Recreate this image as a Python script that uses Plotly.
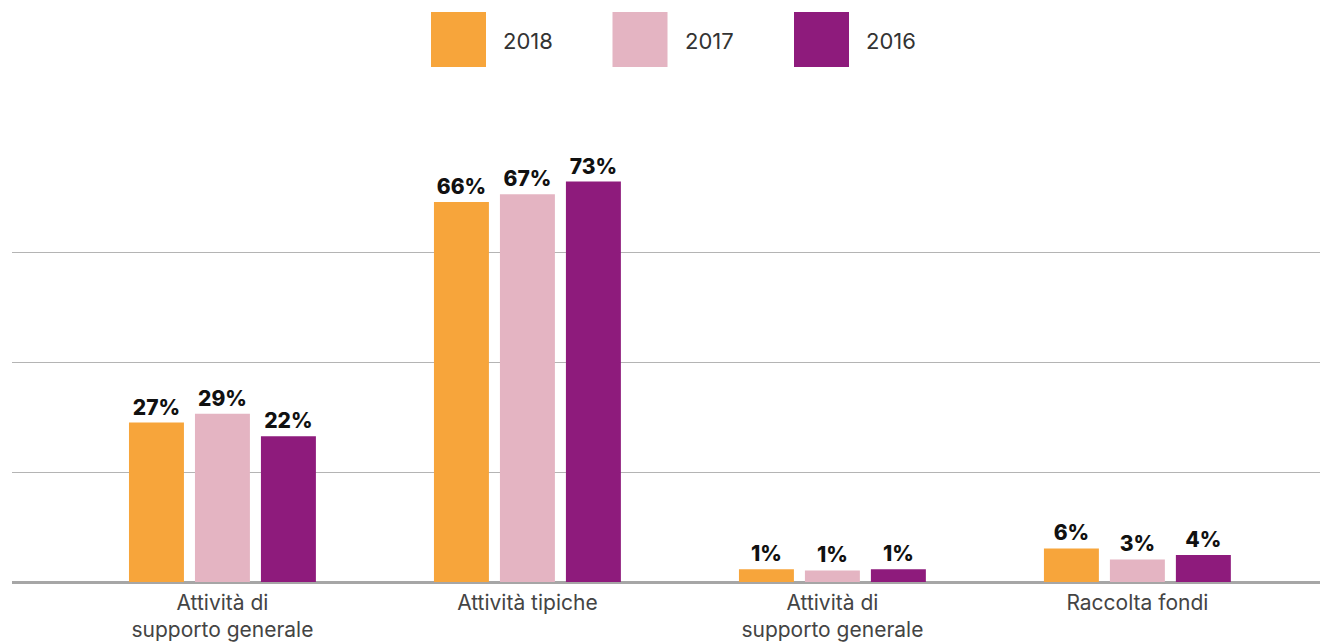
import plotly.graph_objects as go

# ---- data ----
categories = ["Attività di<br>supporto generale", "Attività tipiche",
              "Attività di<br>supporto generale", "Raccolta fondi"]
series_names = ["2018", "2017", "2016"]
# bar heights as drawn (grid every 20)
heights_2018 = [29.0, 69.1, 2.3, 6.1]
heights_2017 = [30.6, 70.5, 2.1, 4.1]
heights_2016 = [26.5, 72.8, 2.3, 4.9]
# printed labels
labels_2018 = ["27%", "66%", "1%", "6%"]
labels_2017 = ["29%", "67%", "1%", "3%"]
labels_2016 = ["22%", "73%", "1%", "4%"]
colors = ["#F7A53B", "#E4B4C2", "#8E1B7C"]

FONT = "Inter"
OFF = 8  # page body margin in the browser
W, H = 1328, 642
ML, MT = 12 - OFF, 142 - OFF
PW, PH = 1316, 440
MR = W - ML - PW
MB = H - MT - PH

x_pos = list(range(len(categories)))
fig = go.Figure()
for name, h, lab, col in zip(series_names,
                             [heights_2018, heights_2017, heights_2016],
                             [labels_2018, labels_2017, labels_2016], colors):
    fig.add_trace(go.Bar(
        x=x_pos, y=h, name=name, marker_color=col, marker_line_width=0,
        text=lab, textposition="outside", cliponaxis=False,
        textfont=dict(family=FONT, size=21, color="#111111", weight=800),
        showlegend=False, hoverinfo="skip"))

# legend drawn as big swatches (screen pixel positions -> paper coords)
def px_to_paper_x(px):
    return (px - OFF - ML) / PW

def py_to_paper_y(py):
    return (OFF + MT + PH - py) / PH

shapes, annotations = [], []
sw = 55
leg_x0 = 431
leg_step = 181.5
for i, (name, col) in enumerate(zip(series_names, colors)):
    px0 = leg_x0 + i * leg_step
    shapes.append(dict(type="rect", xref="paper", yref="paper",
                       x0=px_to_paper_x(px0), x1=px_to_paper_x(px0 + sw),
                       y0=py_to_paper_y(67), y1=py_to_paper_y(12),
                       fillcolor=col, line_width=0))
    annotations.append(dict(xref="paper", yref="paper",
                            x=px_to_paper_x(px0 + sw + 15), y=py_to_paper_y(41),
                            xanchor="left", yanchor="middle", showarrow=False,
                            text=name, font=dict(family=FONT, size=22, color="#333333")))

fig.update_layout(
    width=W, height=H,
    margin=dict(l=ML, r=MR, t=MT, b=MB),
    paper_bgcolor="white", plot_bgcolor="white",
    barmode="group", bargap=0.351, bargroupgap=0.167,
    shapes=shapes, annotations=annotations,
    font=dict(family=FONT),
)
fig.update_xaxes(range=[-0.690, 3.625], tickvals=x_pos, ticktext=categories,
                 showgrid=False, zeroline=False, showline=False, ticks="",
                 ticklabelstandoff=6,
                 tickfont=dict(family=FONT, size=21, color="#444444"))
fig.update_yaxes(range=[0, 80], tickvals=[20, 40, 60], showticklabels=False,
                 showgrid=True, gridcolor="#B4B4B4", gridwidth=1,
                 zeroline=True, zerolinecolor="#A6A6A6", zerolinewidth=2.5,
                 showline=False, ticks="")

fig.write_html("out.html")
